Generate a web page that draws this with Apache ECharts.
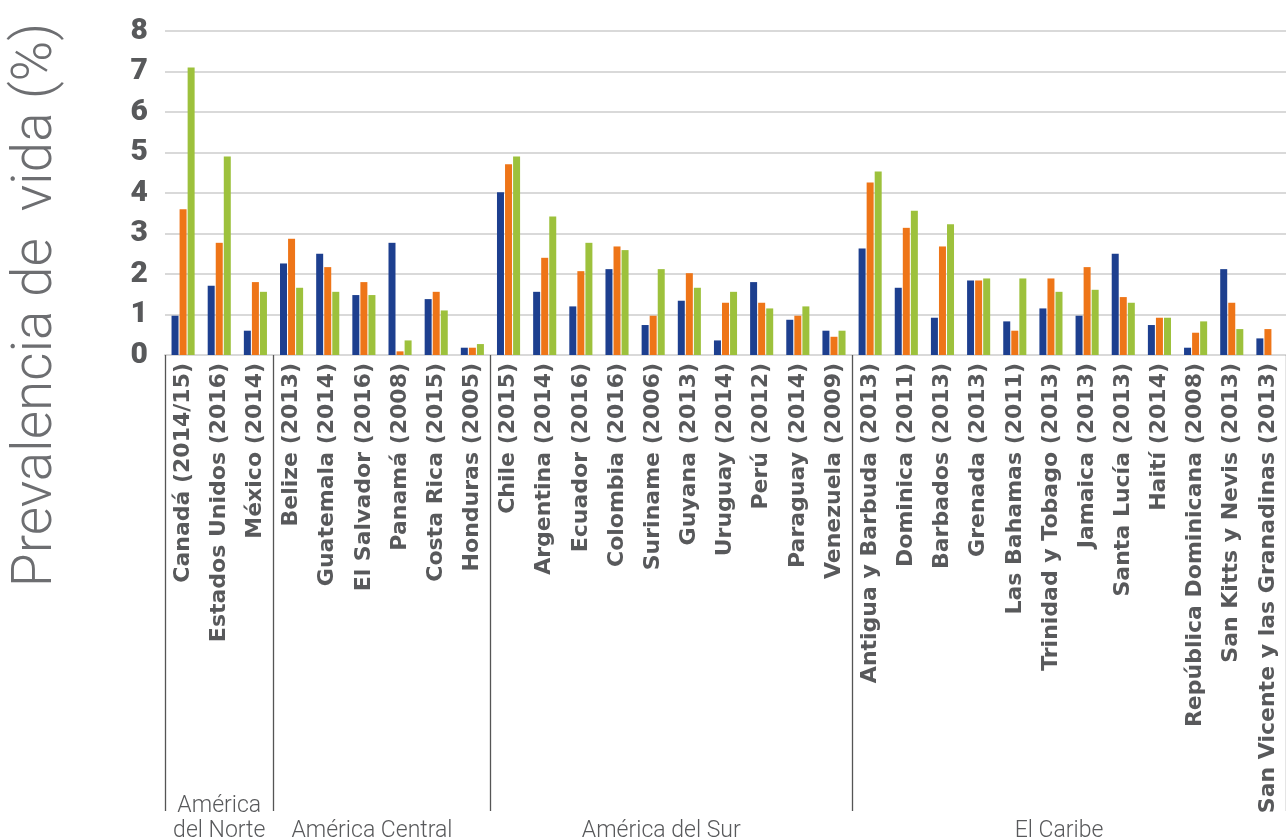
<!DOCTYPE html>
<html>
<head>
<meta charset="utf-8">
<script src="https://cdn.jsdelivr.net/npm/echarts@6/dist/echarts.min.js"></script>
<style>
html,body{margin:0;padding:0;background:#fff;}
#chart{width:1286px;height:840px;}
</style>
</head>
<body>
<div id="chart"></div>
<script>
const categories = [
  'Canadá (2014/15)', 'Estados Unidos (2016)', 'México (2014)',
  'Belize (2013)', 'Guatemala (2014)', 'El Salvador (2016)', 'Panamá (2008)', 'Costa Rica (2015)', 'Honduras (2005)',
  'Chile (2015)', 'Argentina (2014)', 'Ecuador (2016)', 'Colombia (2016)', 'Suriname (2006)', 'Guyana (2013)', 'Uruguay (2014)', 'Perú (2012)', 'Paraguay (2014)', 'Venezuela (2009)',
  'Antigua y Barbuda (2013)', 'Dominica (2011)', 'Barbados (2013)', 'Grenada (2013)', 'Las Bahamas (2011)', 'Trinidad y Tobago (2013)', 'Jamaica (2013)', 'Santa Lucía (2013)', 'Haití (2014)', 'República Dominicana (2008)', 'San Kitts y Nevis (2013)', 'San Vicente y las Granadinas (2013)'
];
const seriesBlue = [
  0.97, 1.71, 0.6,
  2.26, 2.5, 1.48, 2.77, 1.38, 0.18,
  4.02, 1.56, 1.2, 2.12, 0.74, 1.34, 0.36, 1.8, 0.87, 0.6,
  2.63, 1.66, 0.92, 1.84, 0.83, 1.15, 0.97, 2.5, 0.74, 0.18, 2.12, 0.41
];
const seriesOrange = [
  3.6, 2.77, 1.8,
  2.87, 2.17, 1.8, 0.09, 1.56, 0.18,
  4.71, 2.4, 2.07, 2.68, 0.97, 2.02, 1.29, 1.29, 0.97, 0.45,
  4.26, 3.14, 2.68, 1.84, 0.6, 1.89, 2.17, 1.43, 0.92, 0.55, 1.29, 0.64
];
const seriesGreen = [
  7.1, 4.9, 1.56,
  1.66, 1.56, 1.48, 0.36, 1.1, 0.27,
  4.9, 3.42, 2.77, 2.59, 2.12, 1.66, 1.56, 1.15, 1.2, 0.6,
  4.53, 3.56, 3.23, 1.89, 1.89, 1.56, 1.61, 1.29, 0.92, 0.83, 0.64, null
];
const yTicks = [0, 1, 2, 3, 4, 5, 6, 7, 8];
const groupNames = ['América\ndel Norte', 'América Central', 'América del Sur', 'El Caribe'];
const groupStarts = [0, 3, 9, 19];
const groupEnds = [2, 8, 18, 30];
const yAxisTitle = 'Prevalencia de  vida (%)';

const chart = echarts.init(document.getElementById('chart'));
const barCommon = { type: 'bar', barWidth: 7, barGap: '15%' };
chart.setOption({
  animation: false,
  backgroundColor: '#fff',
  grid: { left: 165, right: 0, top: 31, bottom: 485, containLabel: false },
  xAxis: {
    type: 'category',
    data: categories,
    boundaryGap: true,
    axisLine: { show: true, lineStyle: { color: '#d9d9d9', width: 2 } },
    axisTick: {
      show: true,
      interval: function (idx) { return groupStarts.indexOf(idx) >= 0; },
      length: 456,
      lineStyle: { color: '#555', width: 1.3 }
    },
    axisLabel: {
      interval: 0,
      rotate: 90,
      margin: 8,
      color: '#58595b',
      fontFamily: 'DejaVu Sans',
      fontWeight: 'bold',
      fontSize: 22
    }
  },
  yAxis: {
    type: 'value',
    min: yTicks[0],
    max: yTicks[yTicks.length - 1],
    interval: 1,
    axisLine: { show: false },
    axisTick: { show: false },
    splitLine: { lineStyle: { color: '#d9d9d9', width: 2 } },
    axisLabel: {
      margin: 17,
      color: '#58595b',
      fontFamily: 'Roboto',
      fontWeight: 900,
      fontSize: 30
    }
  },
  series: [
    Object.assign({ name: 'A', data: seriesBlue, itemStyle: { color: '#1d3f8f' } }, barCommon),
    Object.assign({ name: 'B', data: seriesOrange, itemStyle: { color: '#ee7518' } }, barCommon),
    Object.assign({ name: 'C', data: seriesGreen, itemStyle: { color: '#9dc13c' } }, barCommon)
  ]
});

function placeGroups() {
  const els = [];
  groupNames.forEach(function (name, i) {
    const x1 = chart.convertToPixel({ xAxisIndex: 0 }, groupStarts[i]);
    const x2 = chart.convertToPixel({ xAxisIndex: 0 }, groupEnds[i]);
    els.push({
      type: 'text',
      x: (x1 + x2) / 2 - (i === 0 ? 0 : 10),
      y: 844,
      style: {
        text: name,
        fill: '#58595b',
        font: '300 23px Roboto',
        align: 'center',
        verticalAlign: 'bottom',
        lineHeight: 25
      }
    });
  });
  els.push({
    type: 'text',
    x: 37,
    y: 305,
    rotation: Math.PI / 2,
    style: {
      text: yAxisTitle,
      fill: '#6d6e71',
      font: '300 55px Roboto',
      align: 'center',
      verticalAlign: 'middle'
    }
  });
  chart.setOption({ graphic: { elements: els } });
}
placeGroups();
</script>
</body>
</html>
